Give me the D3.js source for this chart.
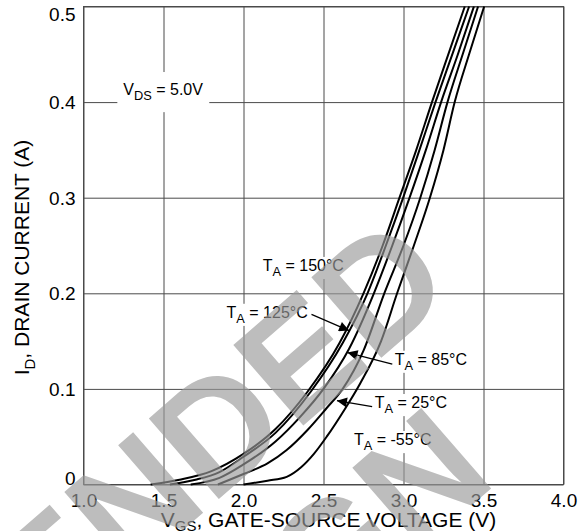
<!DOCTYPE html>
<html>
<head>
<meta charset="utf-8">
<script src="https://cdn.jsdelivr.net/npm/d3@7"></script>
<style>
  body { margin: 0; background: #ffffff; }
  svg { display: block; font-family: "Liberation Sans", Arial, sans-serif; }
</style>
</head>
<body>
<div id="chart"></div>
<script>

const width = 581, height = 531;

// AXES
const xTicks = [1.0, 1.5, 2.0, 2.5, 3.0, 3.5, 4.0];
const yTicks = [0, 0.1, 0.2, 0.3, 0.4, 0.5];

const curve150 = [[1.42, 0], [1.6, 0.005], [1.8, 0.014], [2.0, 0.032], [2.2, 0.058], [2.4, 0.097],
	[2.6, 0.148], [2.75, 0.2], [2.87, 0.25], [2.975, 0.3], [3.08, 0.35], [3.178, 0.4], [3.28, 0.45], [3.383, 0.5]];
const curve125 = [[1.54, 0], [1.7, 0.005], [1.85, 0.013], [2.0, 0.029], [2.2, 0.054], [2.42, 0.097],
	[2.62, 0.148], [2.775, 0.2], [2.89, 0.25], [2.998, 0.3], [3.1, 0.35], [3.2, 0.4], [3.305, 0.45], [3.41, 0.5]];
const curve85 = [[1.67, 0], [1.85, 0.007], [2.0, 0.021], [2.2, 0.045], [2.35, 0.07], [2.5, 0.1],
	[2.66, 0.142], [2.815, 0.2], [2.93, 0.25], [3.038, 0.3], [3.14, 0.35], [3.235, 0.4], [3.34, 0.45], [3.44, 0.5]];
const curve25 = [[1.84, 0], [2.0, 0.011], [2.15, 0.022], [2.27, 0.036], [2.4, 0.057], [2.52, 0.08],
	[2.62, 0.1], [2.75, 0.14], [2.88, 0.2], [3.0, 0.25], [3.105, 0.3], [3.195, 0.35], [3.275, 0.4], [3.37, 0.45], [3.466, 0.5]];
const curveM55 = [[2.0, 0], [2.15, 0.004], [2.27, 0.008], [2.36, 0.018], [2.44, 0.032], [2.52, 0.05],
	[2.63, 0.078], [2.73, 0.106], [2.86, 0.15], [2.96, 0.2], [3.065, 0.25], [3.165, 0.3], [3.25, 0.35], [3.32, 0.4], [3.41, 0.45], [3.504, 0.5]];
const curves = [curve150, curve125, curve85, curve25, curveM55];

// LABELS (position in data units)
const labelTemps = ["150°C", "125°C", "85°C", "25°C", "-55°C"];
const labelV = [2.12, 1.894, 2.945, 2.82, 2.69];
const labelI = [0.2234, 0.1744, 0.1253, 0.080, 0.0413];

// ARROWS : tail -> tip (only for 125, 85, 25)
const arrowTail = [[2.425, 0.178], [2.93, 0.126], [2.804, 0.0815]];
const arrowTip = [[2.66, 0.161], [2.65, 0.138], [2.584, 0.0877]];

const vdsPos = [1.249, 0.4074];

const x = d3.scaleLinear().domain([1, 4]).range([83.5, 563.5]);
const y = d3.scaleLinear().domain([0, 0.5]).range([484.5, 6.5]);

let svg = d3.select("#chart")
	.append("svg")
	.attr("width", width)
	.attr("height", height);

const gridColor = "#4a4a4a";

// GRID + TICK LABELS
let gx = svg.append("g")
	.attr("transform", "translate(0," + y(0) + ")")
	.call(d3.axisBottom(x).tickValues(xTicks).tickSize(-(y(0) - y(0.5))).tickPadding(9)
		.tickFormat(d3.format(".1f")));

let gy = svg.append("g")
	.attr("transform", "translate(" + x(1) + ",0)")
	.call(d3.axisLeft(y).tickValues(yTicks).tickSize(-(x(4) - x(1))).tickPadding(8)
		.tickFormat(d => d == 0 ? "0" : d3.format(".1f")(d)));

[gx, gy].forEach(g => {
	g.select(".domain").remove();
	g.selectAll(".tick line").attr("stroke", gridColor).attr("stroke-width", 1);
	g.selectAll(".tick text").attr("fill", "#000").style("font-size", "19px")
		.style("font-family", "'Liberation Sans', Arial, sans-serif");
});

// top and bottom y labels are kept inside the frame
gy.selectAll(".tick text")
	.attr("dy", d => d == 0.5 ? "0.75em" : (d == 0 ? "0" : "0.35em"));

// FRAME
svg.append("rect")
	.attr("x", x(1)).attr("y", y(0.5))
	.attr("width", x(4) - x(1)).attr("height", y(0) - y(0.5))
	.attr("fill", "none").attr("stroke", gridColor).attr("stroke-width", 1);

// CURVES
const line = d3.line()
	.x(d => x(d[0]))
	.y(d => y(d[1]))
	.curve(d3.curveMonotoneX);

svg.append("g").selectAll("path")
	.data(curves)
	.enter()
	.append("path")
	.attr("d", line)
	.attr("fill", "none")
	.attr("stroke", "#000")
	.attr("stroke-width", 2);

// text with a subscript, white box behind so the grid is cut
function subText(g, main, sub, rest, px, py, size, pad) {
	let t = g.append("text")
		.attr("x", px).attr("y", py)
		.style("font-size", size + "px")
		.attr("fill", "#000");
	t.append("tspan").text(main);
	t.append("tspan").text(sub).attr("dy", size * 0.32).style("font-size", (size * 0.8) + "px");
	t.append("tspan").text(rest).attr("dy", -size * 0.32);
	let b = t.node().getBBox();
	g.insert("rect", "text")
		.attr("x", b.x - pad[0]).attr("y", b.y - pad[1])
		.attr("width", b.width + 2 * pad[0]).attr("height", b.height + 2 * pad[1])
		.attr("fill", "#fff");
	return t;
}

let labels = svg.append("g");

for (let i = 0; i < labelTemps.length; i++) {
	let g = labels.append("g");
	subText(g, "T", "A", " = " + labelTemps[i], x(labelV[i]), y(labelI[i]), 16, [2, 0]);
}

let gv = labels.append("g");
subText(gv, "V", "DS", " = 5.0V", x(vdsPos[0]), y(vdsPos[1]), 16, [6, 9]);

// ARROWS
svg.append("defs").append("marker")
	.attr("id", "head")
	.attr("viewBox", "0 0 10 10")
	.attr("refX", 10).attr("refY", 5)
	.attr("markerWidth", 14).attr("markerHeight", 10)
	.attr("markerUnits", "userSpaceOnUse")
	.attr("orient", "auto")
	.append("path")
	.attr("d", "M0,0 L10,5 L0,10 Z")
	.attr("fill", "#000");

for (let i = 0; i < arrowTail.length; i++) {
	svg.append("line")
		.attr("x1", x(arrowTail[i][0])).attr("y1", y(arrowTail[i][1]))
		.attr("x2", x(arrowTip[i][0])).attr("y2", y(arrowTip[i][1]))
		.attr("stroke", "#000").attr("stroke-width", 1.2)
		.attr("marker-end", "url(#head)");
}

// AXIS TITLES
let xt = svg.append("text")
	.attr("x", 328.5).attr("y", 527)
	.attr("text-anchor", "middle")
	.style("font-size", "21px");
xt.append("tspan").text("V");
xt.append("tspan").text("GS").attr("dy", 4).style("font-size", "15px");
xt.append("tspan").text(", GATE-SOURCE VOLTAGE (V)").attr("dy", -4);

let yt = svg.append("text")
	.attr("transform", "translate(28.5,257.5) rotate(-90)")
	.attr("text-anchor", "middle")
	.style("font-size", "21px");
yt.append("tspan").text("I");
yt.append("tspan").text("D").attr("dy", 6).style("font-size", "15px");
yt.append("tspan").text(", DRAIN CURRENT (A)").attr("dy", -6);

// WATERMARK (gray letters laid over the chart)
const wmText = ["NOT RECOMMENDED", "FOR NEW DESIGN"];
const wmEnd = [[3.341, 0.2024], [3.597, 0.0031]];

svg.append("g").selectAll("text")
	.data(wmText)
	.enter()
	.append("text")
	.attr("transform", (d, i) => "translate(" + x(wmEnd[i][0]) + "," + y(wmEnd[i][1]) + ") rotate(-41)")
	.attr("text-anchor", "end")
	.style("font-size", "155px")
	.style("font-weight", "bold")
	.attr("fill", "#9a9a9a")
	.attr("opacity", 0.65)
	.text(d => d);

</script>
</body>
</html>
